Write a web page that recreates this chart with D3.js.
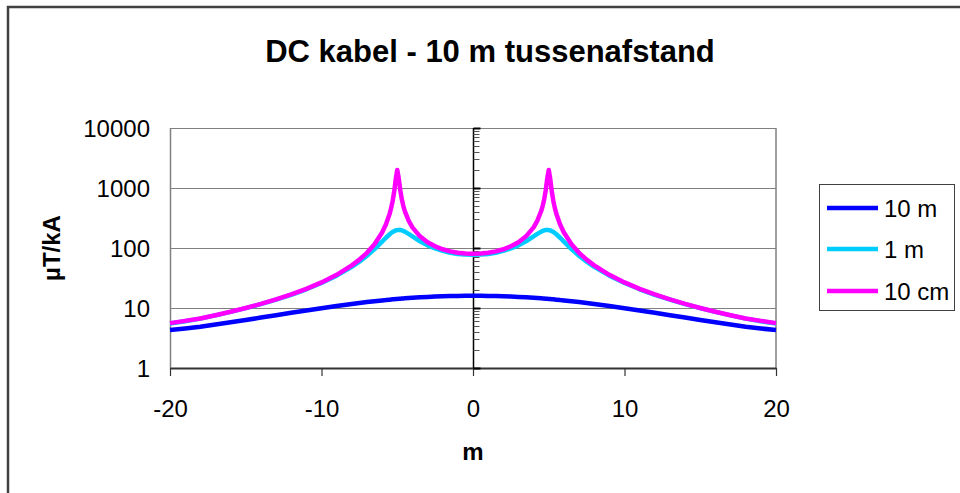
<!DOCTYPE html>
<html>
<head>
<meta charset="utf-8">
<script src="https://cdn.jsdelivr.net/npm/d3@7"></script>
<style>
  html, body { margin: 0; padding: 0; background: #fff; }
  svg { display: block; font-family: "Liberation Sans", Arial, sans-serif; }
</style>
</head>
<body>
<svg id="chart" width="960" height="493"></svg>
<script>
// afstand tot midden (m)
const xs = [-20, -19, -18, -17, -16, -15, -14, -13, -12, -11, -10, -9, -8, -7.5, -7, -6.5, -6, -5.75,
  -5.5, -5.4, -5.3, -5.2, -5.1, -5, -4.9, -4.8, -4.7, -4.6, -4.5, -4.25, -4, -3.5, -3, -2.5, -2, -1.5, -1, -0.5,
  0, 0.5, 1, 1.5, 2, 2.5, 3, 3.5, 4, 4.25, 4.5, 4.6, 4.7, 4.8, 4.9, 5, 5.1, 5.2, 5.3, 5.4, 5.5, 5.75,
  6, 6.5, 7, 7.5, 8, 9, 10, 11, 12, 13, 14, 15, 16, 17, 18, 19, 20];

// µT/kA per hoogte
const h10m = [4.3, 4.55, 4.86, 5.30, 5.78, 6.32, 6.92, 7.58, 8.31, 9.09, 9.92, 10.79, 11.68, 12.12, 12.56, 12.98, 13.39, 13.55,
  13.78, 13.85, 13.93, 14.0, 14.07, 14.14, 14.21, 14.28, 14.35, 14.42, 14.48, 14.64, 14.79, 15.07, 15.31, 15.52, 15.69, 15.83, 15.92, 15.98,
  16.0, 15.98, 15.92, 15.83, 15.69, 15.52, 15.31, 15.07, 14.79, 14.64, 14.48, 14.42, 14.35, 14.28, 14.21, 14.14, 14.07, 14.0, 13.93, 13.85, 13.78, 13.55,
  13.39, 12.98, 12.56, 12.12, 11.68, 10.79, 9.92, 9.09, 8.31, 7.58, 6.92, 6.32, 5.78, 5.30, 4.86, 4.55, 4.3];

const h1m = [5.5, 6.0, 6.66, 7.54, 8.61, 9.94, 11.6, 13.8, 16.6, 20.5, 26.1, 34.6, 48.5, 59.2, 74.3, 96.1, 128.0, 148.2,
  169.6, 177.7, 185.1, 191.4, 196.1, 199.0, 200.0, 199.1, 196.4, 192.4, 187.3, 172.0, 156.2, 129.6, 110.9, 98.2, 89.4, 83.5, 79.7, 77.6,
  76.9, 77.6, 79.7, 83.5, 89.4, 98.2, 110.9, 129.6, 156.2, 172.0, 187.3, 192.4, 196.4, 199.1, 200.0, 199.0, 196.1, 191.4, 185.1, 177.7, 169.6, 148.2,
  128.0, 96.1, 74.3, 59.2, 48.5, 34.6, 26.1, 20.5, 16.6, 13.8, 11.6, 9.94, 8.61, 7.54, 6.66, 6.0, 5.5];

const h10cm = [5.6, 6.1, 6.69, 7.58, 8.66, 10.0, 11.7, 13.9, 16.8, 20.8, 26.7, 35.7, 51.3, 63.9, 83.2, 115.7, 180.9, 245.9,
  373.5, 466.4, 614.0, 876.9, 1400, 2000, 1428, 912.6, 652.0, 505.3, 412.9, 285.7, 221.1, 156.5, 124.8, 106.6, 95.2, 87.9, 83.3, 80.8,
  80.0, 80.8, 83.3, 87.9, 95.2, 106.6, 124.8, 156.5, 221.1, 285.7, 412.9, 505.3, 652.0, 912.6, 1428, 2000, 1400, 876.9, 614.0, 466.4, 373.5, 245.9,
  180.9, 115.7, 83.2, 63.9, 51.3, 35.7, 26.7, 20.8, 16.8, 13.9, 11.7, 10.0, 8.66, 7.58, 6.69, 6.1, 5.6];

const seriesNames = ['10 m', '1 m', '10 cm'];
const seriesColors = ['#0000ff', '#00ccff', '#ff00ff'];
const xTicks = [-20, -10, 0, 10, 20];
const yTicks = [1, 10, 100, 1000, 10000];

const svg = d3.select('#chart');
const L = 170, R = 776, T = 128, B = 368;

const x = d3.scaleLinear().domain([-20, 20]).range([L, R]);
const y = d3.scaleLog().domain([1, 10000]).range([B, T]);

// chart area border (runs off the right / bottom)
svg.append('path')
  .attr('d', `M8,${493 + 5}V7H${960 + 5}`)
  .attr('fill', 'none').attr('stroke', '#404040').attr('stroke-width', 2.5);

// title
svg.append('text')
  .attr('x', 490).attr('y', 62)
  .attr('text-anchor', 'middle')
  .attr('font-size', 31).attr('font-weight', 'bold')
  .text('DC kabel - 10 m tussenafstand');

// plot area frame + gridlines
const grid = svg.append('g');
grid.selectAll('line.h').data(yTicks.slice(1)).join('line')
  .attr('x1', L).attr('x2', R)
  .attr('y1', d => Math.round(y(d)) + 0.5).attr('y2', d => Math.round(y(d)) + 0.5)
  .attr('stroke', '#808080').attr('stroke-width', 1);
grid.append('line').attr('x1', L + 0.5).attr('x2', L + 0.5).attr('y1', T).attr('y2', B)
  .attr('stroke', '#808080').attr('stroke-width', 1.5);
grid.append('line').attr('x1', R).attr('x2', R).attr('y1', T).attr('y2', B)
  .attr('stroke', '#808080').attr('stroke-width', 1.5);

// y tick labels at left of plot
svg.append('g').selectAll('text').data(yTicks).join('text')
  .attr('x', 150).attr('y', d => y(d) + 8.5)
  .attr('text-anchor', 'end').attr('font-size', 24)
  .text(d => d);

// x axis at bottom
const xAxis = svg.append('g')
  .attr('transform', `translate(0,${B})`)
  .call(d3.axisBottom(x).tickValues(xTicks).tickSizeInner(8).tickSizeOuter(0).tickPadding(24).tickFormat(d => String(d)));
xAxis.select('.domain').attr('stroke', '#333').attr('stroke-width', 2);
xAxis.selectAll('.tick line').attr('stroke', '#333').attr('stroke-width', 1.2);
xAxis.selectAll('.tick text').attr('font-size', 24).attr('font-family', '"Liberation Sans", Arial, sans-serif').attr('fill', '#000');

// y axis crossing at x = 0 with minor ticks
const x0 = Math.round(x(0)) + 0.5;
const yAxis = svg.append('g');
yAxis.append('line').attr('x1', x0).attr('x2', x0).attr('y1', T).attr('y2', B)
  .attr('stroke', '#000').attr('stroke-width', 1.5);
const minor = y.ticks().filter(d => !yTicks.includes(d));
yAxis.selectAll('line.minor').data(minor).join('line')
  .attr('x1', x0).attr('x2', x0 + 6)
  .attr('y1', d => Math.round(y(d)) + 0.5).attr('y2', d => Math.round(y(d)) + 0.5)
  .attr('stroke', '#555').attr('stroke-width', 1);
yAxis.selectAll('line.major').data(yTicks).join('line')
  .attr('x1', x0).attr('x2', x0 + 7)
  .attr('y1', d => Math.round(y(d)) + 0.5).attr('y2', d => Math.round(y(d)) + 0.5)
  .attr('stroke', '#000').attr('stroke-width', 2);

// axis titles
svg.append('text')
  .attr('transform', 'translate(60,248) rotate(-90)')
  .attr('text-anchor', 'middle').attr('font-size', 24).attr('font-weight', 'bold')
  .text('µT/kA');
svg.append('text')
  .attr('x', x(0)).attr('y', 460)
  .attr('text-anchor', 'middle').attr('font-size', 24).attr('font-weight', 'bold')
  .text('m');

// series
const series = [h10m, h1m, h10cm];
const line = d3.line().x((d, i) => x(xs[i])).y(d => y(d));
svg.append('g').selectAll('path').data(series).join('path')
  .attr('d', d => line(d))
  .attr('fill', 'none')
  .attr('stroke', (d, i) => seriesColors[i])
  .attr('stroke-width', 4.5)
  .attr('stroke-linejoin', 'round');

// legend
const lg = svg.append('g');
lg.append('rect').attr('x', 819.5).attr('y', 184.5).attr('width', 135).attr('height', 126)
  .attr('fill', '#fff').attr('stroke', '#404040').attr('stroke-width', 1);
const legendY = [208, 249, 291];
const items = lg.selectAll('g').data(seriesNames).join('g')
  .attr('transform', (d, i) => `translate(0,${legendY[i]})`);
items.append('line').attr('x1', 827).attr('x2', 878)
  .attr('stroke', (d, i) => seriesColors[i]).attr('stroke-width', 4.5);
items.append('text').attr('x', 884).attr('y', 8.5)
  .attr('font-size', 24).text(d => d);
</script>
</body>
</html>
